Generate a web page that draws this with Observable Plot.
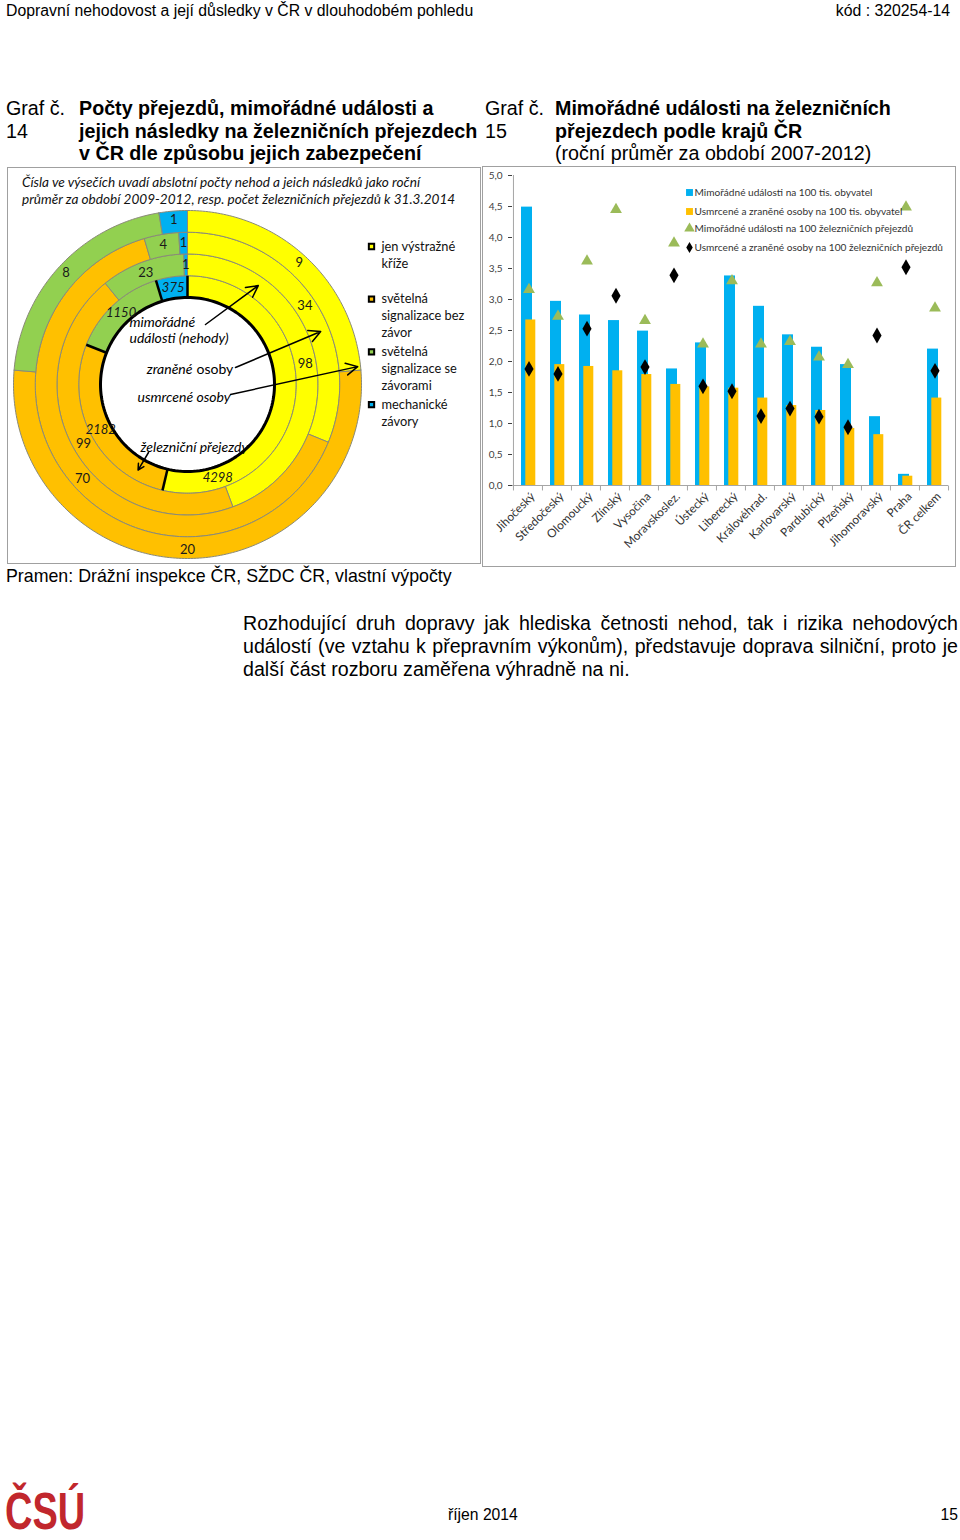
<!DOCTYPE html>
<html lang="cs">
<head>
<meta charset="utf-8">
<script src="https://cdn.jsdelivr.net/npm/d3@7"></script>
<script src="https://cdn.jsdelivr.net/npm/@observablehq/plot@0.6"></script>
<style>
  html, body { margin: 0; padding: 0; background: #fff; }
  body { width: 960px; height: 1540px; position: relative; overflow: hidden;
         font-family: "Liberation Sans", Arial, sans-serif; color: #000; }
  .abs { position: absolute; white-space: nowrap; }
  .title { font-size: 19.7px; line-height: 22.5px; }
  .box { position: absolute; border: 1px solid #a0a0a0; box-sizing: content-box; }
  .box svg { position: absolute; left: 0; top: 0; }
  .note { position: absolute; left: 14px; top: 6px; font-family: Lato, sans-serif; font-style: italic;
          font-size: 13.6px; line-height: 17px; color: #111; white-space: nowrap; }
  .pline { position: absolute; left: 243px; width: 715px; font-size: 19.6px; line-height: 23px;
           white-space: nowrap; text-align: justify; text-align-last: justify; }
</style>
</head>
<body>
<div class="abs" style="left:6px;top:2px;font-size:15.8px;line-height:18px">Dopravní nehodovost a její důsledky v ČR v dlouhodobém pohledu</div>
<div class="abs" style="right:10px;top:2px;font-size:15.8px;line-height:18px">kód : 320254-14</div>

<div class="abs title" style="left:6px;top:97px">Graf č.<br>14</div>
<div class="abs title" style="left:79px;top:97px;font-weight:bold">Počty přejezdů, mimořádné události a<br>jejich následky na železničních přejezdech<br>v ČR dle způsobu jejich zabezpečení</div>
<div class="abs title" style="left:485px;top:97px">Graf č.<br>15</div>
<div class="abs title" style="left:555px;top:97px"><b>Mimořádné události na železničních<br>přejezdech podle krajů ČR</b><br>(roční průměr za období 2007-2012)</div>

<div class="box" id="box14" style="left:7px;top:167px;width:472px;height:395px">
  <div class="note">Čísla ve výsečích uvadí abslotní počty nehod a jeich následků jako roční<br>průměr za období 2009-2012, resp. počet železničních přejezdů k 31.3.2014</div>
</div>
<div class="box" id="box15" style="left:482px;top:166px;width:472px;height:399px"></div>

<div class="abs" style="left:6px;top:566px;font-size:17.8px;line-height:20px">Pramen: Drážní inspekce ČR, SŽDC ČR, vlastní výpočty</div>

<div class="pline" style="top:612px">Rozhodující druh dopravy jak hlediska četnosti nehod, tak i rizika nehodových</div>
<div class="pline" style="top:635px">událostí (ve vztahu k přepravním výkonům), představuje doprava silniční, proto je</div>
<div class="pline" style="top:658px;text-align:left;text-align-last:left">další část rozboru zaměřena výhradně na ni.</div>

<div class="abs" style="left:5px;top:1481px;font-size:52px;line-height:60px;font-weight:bold;color:#c1272d;transform:scaleX(0.73);transform-origin:left top">ČSÚ</div>
<div class="abs" style="left:448px;top:1506px;font-size:15.7px;line-height:18px">říjen 2014</div>
<div class="abs" style="right:2px;top:1506px;font-size:15.7px;line-height:18px">15</div>

<script>
// ---------------- Graf 14 data ----------------
const categories = ["jen výstražné kříže", "světelná signalizace bez závor", "světelná signalizace se závorami", "mechanické závory"];
const categoryColors = ["#FFFF00", "#FFC000", "#92D050", "#00B0F0"];
const legendLines14 = [["jen výstražné", "kříže"], ["světelná", "signalizace bez", "závor"], ["světelná", "signalizace se", "závorami"], ["mechanické", "závory"]];
const ringNames = ["železniční přejezdy", "mimořádné události (nehody)", "zraněné osoby", "usmrcené osoby"];
const prejezdy = [4298, 2182, 1150, 375];
const udalosti = [98, 99, 23, 1];
const zranene = [34, 70, 4, 1];
const usmrcene = [9, 20, 8, 1];

// ---------------- Graf 15 data ----------------
const regions = ["Jihočeský", "Středočeský", "Olomoucký", "Zlínský", "Vysočina", "Moravskoslez.", "Ústecký", "Liberecký", "Královéhrad.", "Karlovarský", "Pardubický", "Plzeňský", "Jihomoravský", "Praha", "ČR celkem"];
const udalostiNaObyv = [4.49, 2.97, 2.75, 2.66, 2.49, 1.88, 2.30, 3.38, 2.89, 2.43, 2.23, 1.95, 1.11, 0.18, 2.20];
const nasledkyNaObyv = [2.67, 1.95, 1.92, 1.85, 1.79, 1.63, 1.59, 1.57, 1.41, 1.29, 1.21, 0.92, 0.82, 0.15, 1.41];
const udalostiNaPrejezdy = [3.16, 2.73, 3.62, 4.45, 2.66, 3.91, 2.28, 3.30, 2.28, 2.32, 2.07, 1.95, 3.27, 4.49, 2.86];
const nasledkyNaPrejezdy = [1.88, 1.80, 2.53, 3.06, 1.91, 3.39, 1.60, 1.52, 1.12, 1.24, 1.11, 0.94, 2.42, 3.52, 1.85];
const seriesNames = ["Mimořádné události na 100 tis. obyvatel", "Usmrcené a zraněné osoby na 100 tis. obyvatel", "Mimořádné události na 100 železničních přejezdů", "Usmrcené a zraněné osoby na 100 železničních přejezdů"];
const seriesColors = ["#00B0F0", "#FFC000", "#9BBB59", "#000000"];
const yTicks = [0, 0.5, 1, 1.5, 2, 2.5, 3, 3.5, 4, 4.5, 5];

// ---------------- Graf 14: nested donut ----------------
{
  const W = 472, H = 395, cx = 179, cy = 216;
  const deg = Math.PI / 180;
  const ringValues = [prejezdy, udalosti, zranene, usmrcene];
  const outerR = 174, hole = 87, ringW = (outerR - hole) / ringValues.length;
  const segs = [];
  ringValues.forEach((vals, ri) => {
    const tot = d3.sum(vals);
    let acc = 0;
    vals.forEach((v, ci) => {
      const a0 = acc / tot * 2 * Math.PI; acc += v; const a1 = acc / tot * 2 * Math.PI;
      segs.push({id: ri + "-" + ci, ring: ri, cat: categories[ci], value: v, a0, a1,
                 r0: hole + ri * ringW, r1: hole + (ri + 1) * ringW});
    });
  });
  const pts = segs.flatMap(s => {
    const n = Math.max(2, Math.ceil((s.a1 - s.a0) / deg));
    const out = [];
    for (let k = 0; k <= n; k++) { const a = s.a0 + (s.a1 - s.a0) * k / n; out.push({id: s.id, cat: s.cat, x: s.r1 * Math.sin(a), y: s.r1 * Math.cos(a)}); }
    for (let k = n; k >= 0; k--) { const a = s.a0 + (s.a1 - s.a0) * k / n; out.push({id: s.id, cat: s.cat, x: s.r0 * Math.sin(a), y: s.r0 * Math.cos(a)}); }
    out.push({...out[0]});
    return out;
  });
  const circle = d3.range(0, 361, 2).map(a => ({x: hole * Math.sin(a * deg), y: hole * Math.cos(a * deg)}));
  const labelAngle = s => (s.id === "0-0" ? 162 * deg : (s.a0 + s.a1) / 2);
  const labelR = s => (s.r0 + s.r1) / 2 + (s.ring === 3 ? 2 : 0);
  const lx = s => labelR(s) * Math.sin(labelAngle(s));
  const ly = s => labelR(s) * Math.cos(labelAngle(s));
  const ringMid = ri => hole + (ri + 0.5) * ringW;

  // callouts: text anchor (offset from center) and target (ring, angle)
  const arrows = [
    {x1: 18, y1: 60, ring: 1, angle: 35.6, rAdd: 2},
    {x1: 48, y1: 17, ring: 2, angle: 68.3, rAdd: 2},
    {x1: 43, y1: -10, ring: 3, angle: 84, rAdd: 8},
    {x1: -39, y1: -68, ring: 0, angle: 210, rAdd: 1}
  ];
  const tx = a => (ringMid(a.ring) + a.rAdd) * Math.sin(a.angle * deg);
  const ty = a => (ringMid(a.ring) + a.rAdd) * Math.cos(a.angle * deg);

  const legendRows = legendLines14.flatMap((lines, i) => lines.map((t, j) => ({cat: categories[i], t, i, j})));
  const legendY = i => 138 - i * 52.7;

  const fs = 14;
  const plot = Plot.plot({
    width: W, height: H, margin: 0,
    x: {domain: [-cx, W - cx], axis: null},
    y: {domain: [-(H - cy), cy], axis: null},
    color: {domain: categories, range: categoryColors},
    style: {fontFamily: "Lato, sans-serif", background: "transparent", overflow: "visible"},
    marks: [
      Plot.line(pts, {x: "x", y: "y", z: "id", fill: "cat", stroke: "#8a8a78", strokeWidth: 1, strokeLinejoin: "miter", curve: "linear"}),
      Plot.link(segs.filter(s => s.ring === 0), {
        x1: s => s.r0 * Math.sin(s.a0), y1: s => s.r0 * Math.cos(s.a0),
        x2: s => s.r1 * Math.sin(s.a0), y2: s => s.r1 * Math.cos(s.a0),
        stroke: "black", strokeWidth: 2.5
      }),
      Plot.line(circle, {x: "x", y: "y", stroke: "black", strokeWidth: 3}),
      Plot.text(segs.filter(s => s.ring > 0), {x: lx, y: ly, text: s => String(s.value), fontSize: 13, fill: "#1a1a1a"}),
      Plot.text(segs.filter(s => s.ring === 0), {x: lx, y: ly, text: s => String(s.value), fontSize: 13, fill: "#1a1a1a", fontStyle: "italic"}),
      // centre captions
      Plot.text(["mimořádné"], {x: () => -58, y: () => 62, text: d => d, textAnchor: "start", fontSize: fs, fontStyle: "italic"}),
      Plot.text(["události (nehody)"], {x: () => -58, y: () => 46, text: d => d, textAnchor: "start", fontSize: fs, fontStyle: "italic"}),
      Plot.text(["zraněné"], {x: () => 5, y: () => 15, text: d => d, textAnchor: "end", fontSize: fs, fontStyle: "italic"}),
      Plot.text(["osoby"], {x: () => 9, y: () => 15, text: d => d, textAnchor: "start", fontSize: fs}),
      Plot.text(["usmrcené osoby"], {x: () => 43, y: () => -13, text: d => d, textAnchor: "end", fontSize: fs, fontStyle: "italic"}),
      Plot.text([ringNames[0]], {x: () => -47, y: () => -63, text: d => d, textAnchor: "start", fontSize: fs, fontStyle: "italic"}),
      Plot.arrow(arrows, {x1: "x1", y1: "y1", x2: tx, y2: ty, stroke: "black", strokeWidth: 1.5, headLength: 13, headAngle: 55}),
      // legend
      Plot.dot(categories, {x: () => 184, y: (d, i) => legendY(i), symbol: "square", fill: d => d, stroke: "black", strokeWidth: 2, r: 3}),
      Plot.text(legendRows, {x: () => 194, y: d => legendY(d.i) - d.j * 17, text: "t", textAnchor: "start", fontSize: 12.8, fill: "#111"})
    ]
  });
  document.getElementById("box14").appendChild(plot);
}

// ---------------- Graf 15: bars + markers ----------------
{
  const W = 472, H = 399, mL = 29, mR = 7, mT = 8, mB = 81;
  const bw = (W - mL - mR) / regions.length;
  const rows = regions.map((r, i) => ({region: r, a: udalostiNaObyv[i], b: nasledkyNaObyv[i], c: udalostiNaPrejezdy[i], d: nasledkyNaPrejezdy[i]}));
  const fmt = v => v.toFixed(1).replace(".", ",");
  const legendDy = [17, 36, 53, 72];
  const legendSymbols = ["square", "square", "triangle", "diamond"];
  const grey = "#a6a6a6";
  const plot = Plot.plot({
    width: W, height: H, marginLeft: mL, marginRight: mR, marginTop: mT, marginBottom: mB,
    x: {domain: regions, padding: 0, axis: null},
    y: {domain: [0, 5], ticks: yTicks, tickFormat: fmt, tickSize: 4, tickPadding: 6, label: null},
    style: {fontFamily: "Lato, sans-serif", fontSize: "10px", color: "#404040", background: "transparent", overflow: "visible"},
    marks: [
      Plot.barY(rows, {x: "region", y: "a", fill: seriesColors[0], insetLeft: 8, insetRight: 10}),
      Plot.barY(rows, {x: "region", y: "b", fill: seriesColors[1], insetLeft: 12.3, insetRight: 6.7}),
      Plot.ruleY([0], {stroke: grey}),
      Plot.ruleX([regions[0]], {y1: 0, y2: 5, dx: -bw / 2, stroke: grey}),
      Plot.link(regions, {x1: d => d, x2: d => d, y1: 0, y2: -0.08, dx: -bw / 2, stroke: grey}),
      Plot.link([regions[regions.length - 1]], {x1: d => d, x2: d => d, y1: 0, y2: -0.08, dx: bw / 2, stroke: grey}),
      Plot.dot(rows, {x: "region", y: "c", symbol: "triangle", fill: seriesColors[2], r: 4.4, dx: 1}),
      Plot.dot(rows, {x: "region", y: "d", symbol: "diamond", fill: seriesColors[3], r: 4.8, dx: 1}),
      Plot.text(regions, {x: d => d, y: () => 0, text: d => d, rotate: -45, textAnchor: "end", dx: 5, dy: 9, fontSize: 11.8, fill: "#333"}),
      ...seriesNames.flatMap((name, i) => [
        Plot.dot([name], {frameAnchor: "top-left", dx: 177, dy: legendDy[i], symbol: legendSymbols[i], fill: seriesColors[i], r: i === 3 ? 3.4 : 3.9}),
        Plot.text([name], {frameAnchor: "top-left", dx: 182, dy: legendDy[i], text: d => d, textAnchor: "start", lineAnchor: "middle", fontSize: 10.1, fill: "#333"})
      ])
    ]
  });
  document.getElementById("box15").appendChild(plot);
}
</script>
</body>
</html>
